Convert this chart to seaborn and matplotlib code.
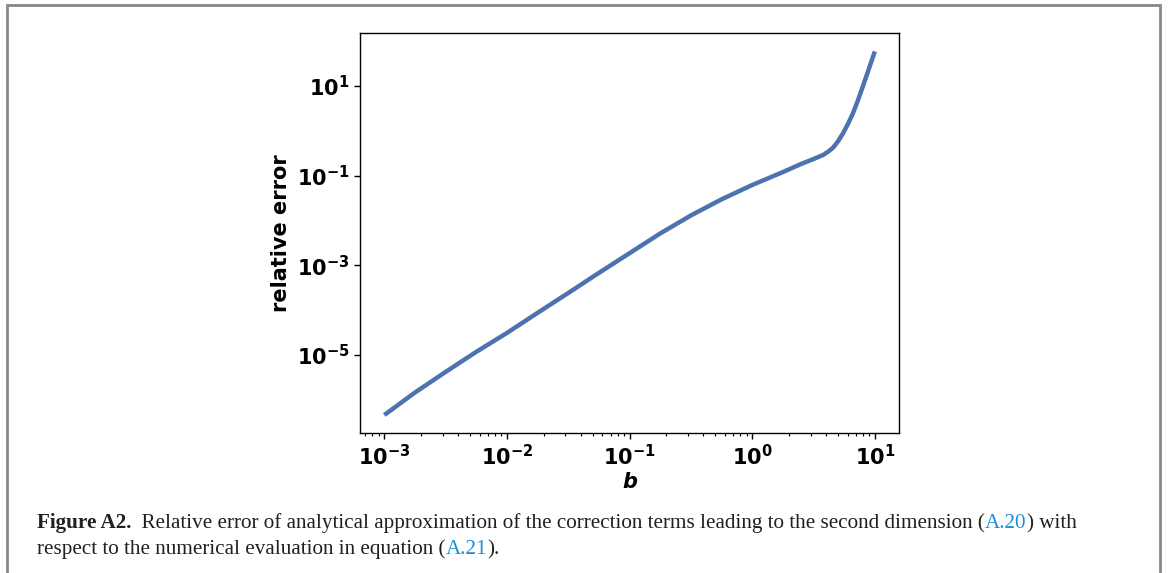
import numpy as np
import pandas as pd
import matplotlib
matplotlib.use("Agg")
import matplotlib.pyplot as plt
import matplotlib.ticker as mticker
from matplotlib.patches import Rectangle
import seaborn as sns

# values
b = [0.001, 0.00178, 0.00316, 0.00562, 0.01, 0.0178, 0.0316, 0.0562, 0.1,
     0.178, 0.316, 0.562, 1.0, 1.78, 2.51, 3.16, 3.80, 4.17, 4.57, 5.01, 5.50,
     6.03, 6.61, 7.24, 7.94, 8.91, 10.0]
rel_err = [4.57e-7, 1.45e-6, 4.17e-6, 1.17e-5, 3.09e-5, 8.7e-5, 2.40e-4, 6.76e-4, 1.86e-3,
           5.13e-3, 1.29e-2, 2.95e-2, 6.17e-2, 0.120, 0.182, 0.234, 0.290, 0.343, 0.422, 0.582, 0.871,
           1.41, 2.40, 4.57, 9.33, 23.4, 58.9]
yticks = [1e-5, 1e-3, 1e-1, 1e1]

df = pd.DataFrame({'b': b, 'err': rel_err})

sns.set_style("ticks")
plt.rcParams['font.family'] = ['DejaVu Sans']
plt.rcParams['mathtext.default'] = 'bf'
plt.rcParams['text.color'] = 'black'
plt.rcParams['axes.labelcolor'] = 'black'
plt.rcParams['xtick.color'] = 'black'
plt.rcParams['ytick.color'] = 'black'

fig = plt.figure(figsize=(11.68, 5.73), dpi=100)
ax = fig.add_axes([0.308, 0.244, 0.462, 0.698])

sns.lineplot(x='b', y='err', data=df, ax=ax, color='#4c72b0', linewidth=3.2)
ax.lines[0].set_solid_capstyle('butt')
ax.lines[0].set_solid_joinstyle('round')
ax.set_xscale('log')
ax.set_yscale('log')
ax.yaxis.set_major_locator(mticker.FixedLocator(yticks))
ax.yaxis.set_minor_locator(mticker.NullLocator())
ax.xaxis.set_major_locator(mticker.LogLocator(base=10, numticks=10))
ax.xaxis.set_minor_locator(mticker.LogLocator(base=10, subs=np.arange(2, 10), numticks=20))
ax.xaxis.set_minor_formatter(mticker.NullFormatter())

ax.set_xlabel('b', fontsize=15, fontweight='bold', style='italic', labelpad=2)
ax.set_ylabel('relative error', fontsize=15, fontweight='bold', labelpad=4)
for lab in ax.get_xticklabels() + ax.get_yticklabels():
    lab.set_fontweight('bold')
ax.tick_params(axis='both', which='major', labelsize=15, direction='out', length=4, width=1, color='black')
ax.tick_params(axis='x', which='minor', direction='out', length=2, width=0.8, color='black')
for s in ax.spines.values():
    s.set_color('black')
    s.set_linewidth(1)

# page frame
fig.patches.append(Rectangle((7 / 1168, -0.05), (1160 - 7) / 1168, 1.05 - 4.5 / 573,
                             transform=fig.transFigure, fill=False, edgecolor='#888888',
                             linewidth=2))

# caption with coloured references
serif = 'Liberation Serif'
lines = [
    [("Figure A2.", 'bold', '#231f20'),
     ("  Relative error of analytical approximation of the correction terms leading to the second dimension (", 'normal', '#231f20'),
     ("A.20", 'normal', '#1a90d8'),
     (") with", 'normal', '#231f20')],
    [("respect to the numerical evaluation in equation (", 'normal', '#231f20'),
     ("A.21", 'normal', '#1a90d8'),
     (").", 'normal', '#231f20')],
]
renderer = fig.canvas.get_renderer()
ys = [1 - 528 / 573, 1 - 554 / 573]
for parts, y in zip(lines, ys):
    x = 37 / 1168
    for txt, w, c in parts:
        t = fig.text(x, y, txt, fontsize=15.25, family=serif, fontweight=w, color=c,
                     ha='left', va='baseline')
        bb = t.get_window_extent(renderer=renderer)
        x = bb.x1 / (fig.dpi * fig.get_figwidth())

fig.savefig('out.png', dpi=100)
